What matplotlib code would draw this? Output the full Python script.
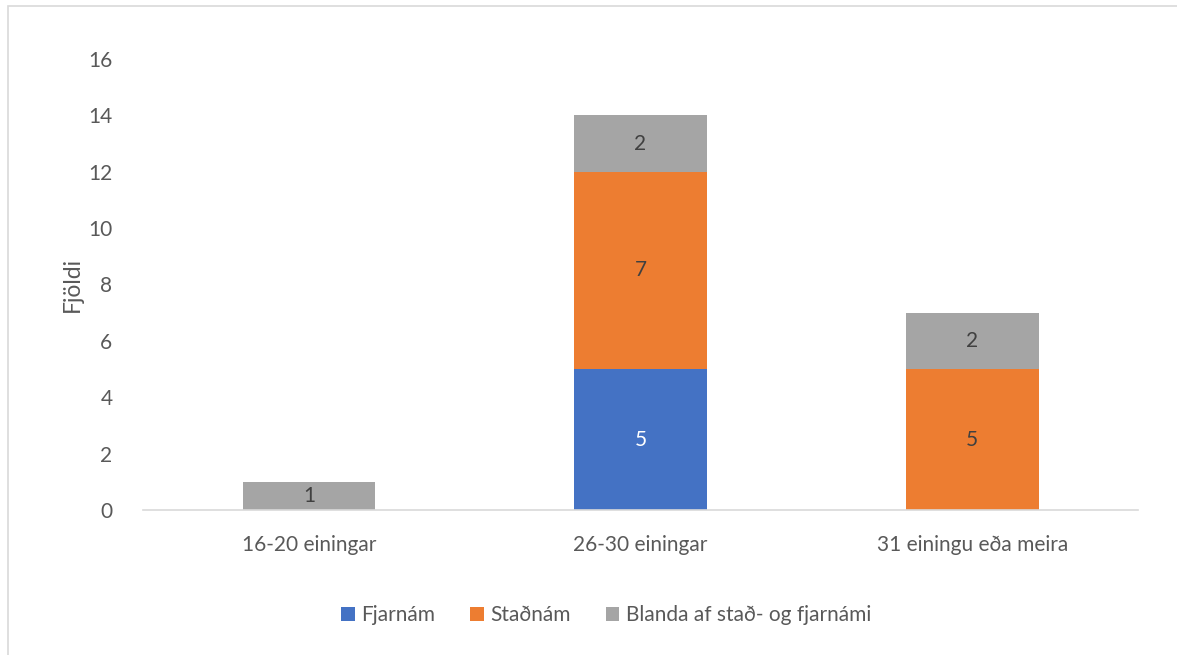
import matplotlib.pyplot as plt
from matplotlib.patches import Rectangle
import numpy as np

categories = ['16-20 einingar', '26-30 einingar', '31 einingu eða meira']
series = ['Fjarnám', 'Staðnám', 'Blanda af stað- og fjarnámi']
fjarnam = [0, 5, 0]
stadnam = [0, 7, 5]
blanda = [1, 2, 2]

colors = ['#4472C4', '#ED7D31', '#A5A5A5']
label_colors = ['white', '#404040', '#404040']
txt = '#595959'
fs = 15

plt.rcParams['font.family'] = ['Lato', 'DejaVu Sans']

fig = plt.figure(figsize=(11.77, 6.55), dpi=100)
ax = fig.add_axes([143/1177, 1-510/655, (1138-143)/1177, (510-59)/655])

# chart border (runs off right/bottom edge like the original)
fig.patches.append(Rectangle((8/1177, -0.1), 1.2, 1 - 6/655 + 0.1, transform=fig.transFigure,
                             fill=False, edgecolor='#D9D9D9', lw=1.2, clip_on=False))

x = np.arange(len(categories))
bottom = np.zeros(len(categories))
for vals, name, c, lc in zip([fjarnam, stadnam, blanda], series, colors, label_colors):
    vals = np.array(vals)
    ax.bar(x, vals, 0.4, bottom=bottom, color=c, label=name, zorder=2)
    for xi, v, b in zip(x, vals, bottom):
        if v > 0:
            ax.text(xi, b + v/2, str(v), ha='center', va='center', color=lc, fontsize=fs)
    bottom += vals

ax.set_xlim(-0.5, 2.5)
ax.set_ylim(0, 16)
ax.set_yticks(range(0, 17, 2))
ax.set_xticks(x)
ax.set_xticklabels(categories)
ax.tick_params(length=0, colors=txt, labelsize=fs)
ax.tick_params(axis='y', pad=22)
ax.tick_params(axis='x', pad=18)
for s in ['top', 'right', 'left']:
    ax.spines[s].set_visible(False)
ax.spines['bottom'].set_color('#D9D9D9')
ax.spines['bottom'].set_linewidth(1.2)
ax.set_ylabel('Fjöldi', color=txt, fontsize=16.5, labelpad=4)

fig.legend(loc='center', bbox_to_anchor=(606/1177, 1-615/655), ncol=3, frameon=False,
           fontsize=fs, labelcolor=txt, handlelength=0.65, handleheight=0.65,
           handletextpad=0.3, columnspacing=1.7)

fig.savefig('out.png', dpi=100)
